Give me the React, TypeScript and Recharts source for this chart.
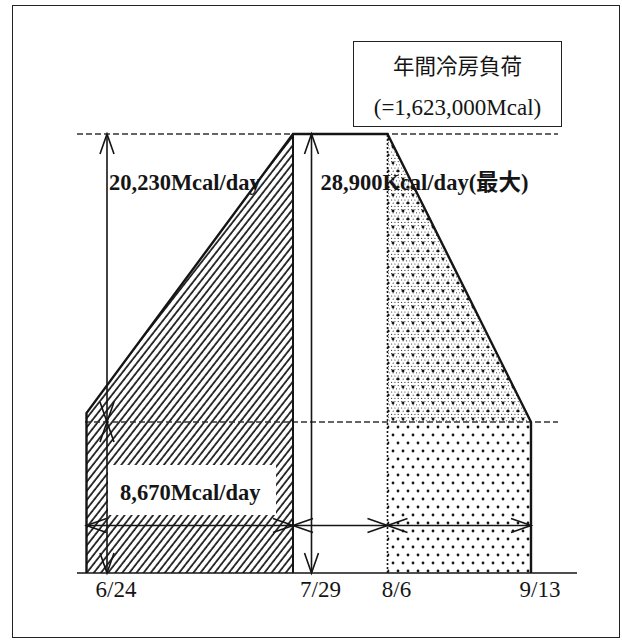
import React from "react";
import { ComposedChart, Area, Line, XAxis, YAxis, ReferenceLine } from "recharts";

// date marks on the time axis (drawing is schematic, not to scale: 0-100 units)
const dateLabels = ["6/24", "7/29", "8/6", "9/13"];
const datePos = [6.0, 46.9, 62.1, 90.8];

// cooling load, Mcal/day
const baseLoad = 8670;
const peakLoad = 28900;
const annualLoad = "1,623,000";

// y axis starts a little below zero, the way the sketch is drawn
const yDomain = [-1937, 36416];
const yFloor = yDomain[0];

// corners of the load profile
const riseX = [1.9, 43.2];
const riseY = [9300, peakLoad];
const fallX = [62.1, 90.8];
const fallY = [peakLoad, baseLoad];

// duration arrows under the profile
const spans = [
  [1.9, 43.2],
  [43.2, 62.1],
  [62.1, 90.8],
];
const spanLevel = 1400;
const guideEnd = 96.2;

const SERIF = '"Liberation Serif", "Times New Roman", "Noto Sans CJK JP", serif';
const INK = "#151515";

const outline = [
  { x: riseX[0], v: yFloor },
  { x: riseX[0], v: riseY[0] },
  { x: riseX[1], v: riseY[1] },
  { x: fallX[0], v: fallY[0] },
  { x: fallX[1], v: fallY[1] },
  { x: fallX[1], v: yFloor },
];
const riseData = riseX.map((x, i) => ({ x, v: riseY[i] }));
const fallUpper = fallX.map((x, i) => ({ x, r: [baseLoad, fallY[i]] }));
const fallLower = fallX.map((x) => ({ x, v: baseLoad }));

type Note = {
  text: string;
  dx: number;
  dy: number;
  box?: number[];
};

// line with open V heads on both ends, optional text next to it
const arrowShape = (note?: Note) => (p: any) => {
  const { x1, y1, x2, y2 } = p;
  const len = Math.hypot(x2 - x1, y2 - y1) || 1;
  const ux = (x2 - x1) / len;
  const uy = (y2 - y1) / len;
  const head = (tx: number, ty: number, dir: number) => {
    const bx = tx - dir * ux * 20;
    const by = ty - dir * uy * 20;
    const nx = -uy * 7;
    const ny = ux * 7;
    return `M${bx + nx},${by + ny}L${tx},${ty}L${bx - nx},${by - ny}`;
  };
  const left = Math.min(x1, x2);
  const top = Math.min(y1, y2);
  return (
    <g>
      {note && note.box && (
        <rect
          x={left + note.box[0]}
          y={top + note.box[1]}
          width={note.box[2]}
          height={note.box[3]}
          fill="#fff"
        />
      )}
      <line x1={x1} y1={y1} x2={x2} y2={y2} stroke={INK} strokeWidth={1.6} />
      <path
        d={head(x2, y2, 1) + head(x1, y1, -1)}
        fill="none"
        stroke={INK}
        strokeWidth={1.6}
      />
      {note && (
        <text
          x={left + note.dx}
          y={top + note.dy}
          fontFamily={SERIF}
          fontSize={22.5}
          fontWeight="bold"
          fill={INK}
        >
          {note.text}
        </text>
      )}
    </g>
  );
};

const DateTick = ({ x, y, payload }: any) => {
  const i = datePos.indexOf(payload.value);
  return (
    <text x={x + 9} y={y} dy={16} textAnchor="middle" fontFamily={SERIF} fontSize={23} fill={INK}>
      {dateLabels[i]}
    </text>
  );
};

const fineDots: React.ReactNode[] = [];
for (let i = 0; i < 3; i++) {
  for (let j = 0; j < 5; j++) {
    fineDots.push(
      <circle key={`${i}-${j}`} cx={1.6 + i * 3.33 + (j % 2) * 1.6} cy={1.6 + j * 3.2} r={0.6} fill="#3a3a3a" />
    );
  }
}

export default function App() {
  return (
    <div style={{ position: "absolute", left: 0, top: 0, width: 622, height: 640, background: "#fff" }}>
      <div
        style={{
          position: "absolute",
          left: 12,
          top: 5,
          width: 608,
          height: 633,
          border: "1.5px solid #222",
          boxSizing: "border-box",
        }}
      />
      <div style={{ position: "absolute", left: 0, top: 0 }}>
        <ComposedChart width={622} height={640} margin={{ top: 27, right: 45, bottom: 37, left: 77 }}>
          <defs>
            <pattern id="hatch" width="5.6" height="6" patternUnits="userSpaceOnUse" patternTransform="rotate(38)">
              <line x1="1" y1="0" x2="1" y2="6" stroke={INK} strokeWidth="1.7" />
            </pattern>
            <pattern id="gridDots" width="10" height="16" patternUnits="userSpaceOnUse">
              <rect width="10" height="16" fill="#fff" />
              <circle cx="3" cy="3" r="1.4" fill={INK} />
              <circle cx="8" cy="11" r="1.4" fill={INK} />
            </pattern>
            <pattern id="fineDots" width="10" height="16" patternUnits="userSpaceOnUse">
              <rect width="10" height="16" fill="#fff" />
              {fineDots}
              <circle cx="3" cy="3" r="1.4" fill={INK} />
              <circle cx="8" cy="11" r="1.4" fill={INK} />
            </pattern>
          </defs>
          <XAxis
            dataKey="x"
            type="number"
            domain={[0, 100]}
            ticks={datePos}
            tick={<DateTick />}
            tickLine={false}
            axisLine={{ stroke: INK, strokeWidth: 1.5 }}
            height={30}
            allowDataOverflow
          />
          <YAxis
            type="number"
            domain={yDomain}
            width={0}
            tick={false}
            tickLine={false}
            axisLine={{ stroke: INK, strokeWidth: 1.5 }}
            allowDataOverflow
          />
          <Area
            data={riseData}
            dataKey="v"
            type="linear"
            baseValue="dataMin"
            fill="url(#hatch)"
            fillOpacity={1}
            stroke="none"
            isAnimationActive={false}
          />
          <Area
            data={fallLower}
            dataKey="v"
            type="linear"
            baseValue="dataMin"
            fill="url(#gridDots)"
            fillOpacity={1}
            stroke="none"
            isAnimationActive={false}
          />
          <Area
            data={fallUpper}
            dataKey="r"
            type="linear"
            fill="url(#fineDots)"
            fillOpacity={1}
            stroke="none"
            isAnimationActive={false}
          />
          <ReferenceLine
            segment={[{ x: 0, y: peakLoad }, { x: guideEnd, y: peakLoad }]}
            stroke="#333"
            strokeWidth={1.4}
            strokeDasharray="6 3"
            ifOverflow="visible"
          />
          <ReferenceLine
            segment={[{ x: 1.6, y: baseLoad }, { x: guideEnd, y: baseLoad }]}
            stroke="#333"
            strokeWidth={1.4}
            strokeDasharray="6 3"
            ifOverflow="visible"
          />
          <ReferenceLine
            segment={[{ x: riseX[1], y: yFloor }, { x: riseX[1], y: peakLoad }]}
            stroke={INK}
            strokeWidth={2}
            ifOverflow="visible"
          />
          <ReferenceLine
            segment={[{ x: fallX[0], y: yFloor }, { x: fallX[0], y: peakLoad }]}
            stroke={INK}
            strokeWidth={1.6}
            strokeDasharray="2 2"
            ifOverflow="visible"
          />
          <Line
            data={outline}
            dataKey="v"
            type="linear"
            stroke={INK}
            strokeWidth={2.4}
            dot={false}
            isAnimationActive={false}
          />
          <ReferenceLine
            segment={[{ x: datePos[0], y: yFloor }, { x: datePos[0], y: baseLoad }]}
            ifOverflow="visible"
            shape={arrowShape({
              text: "8,670Mcal/day",
              dx: 13,
              dy: 78,
              box: [1, 43, 168, 50],
            })}
          />
          <ReferenceLine
            segment={[{ x: datePos[0], y: baseLoad }, { x: datePos[0], y: peakLoad }]}
            ifOverflow="visible"
            shape={arrowShape({ text: "20,230Mcal/day", dx: 2, dy: 56 })}
          />
          <ReferenceLine
            segment={[{ x: datePos[1], y: yFloor }, { x: datePos[1], y: peakLoad }]}
            ifOverflow="visible"
            shape={arrowShape({ text: "28,900Kcal/day(最大)", dx: 9, dy: 56 })}
          />
          {spans.map(([a, b], i) => (
            <ReferenceLine
              key={i}
              segment={[{ x: a, y: spanLevel }, { x: b, y: spanLevel }]}
              ifOverflow="visible"
              shape={arrowShape()}
            />
          ))}
        </ComposedChart>
      </div>
      <div
        style={{
          position: "absolute",
          left: 353,
          top: 41,
          width: 209,
          height: 86,
          border: "1.5px solid #222",
          boxSizing: "border-box",
          background: "#fff",
          color: INK,
          textAlign: "center",
          fontFamily: SERIF,
        }}
      >
        <div style={{ position: "absolute", left: 0, right: 0, top: 11, fontSize: 21.5, lineHeight: "24px", fontFamily: '"Noto Sans CJK JP", sans-serif' }}>
          年間冷房負荷
        </div>
        <div style={{ position: "absolute", left: 0, right: 0, top: 53, fontSize: 23, lineHeight: "26px" }}>
          (={annualLoad}Mcal)
        </div>
      </div>
    </div>
  );
}
